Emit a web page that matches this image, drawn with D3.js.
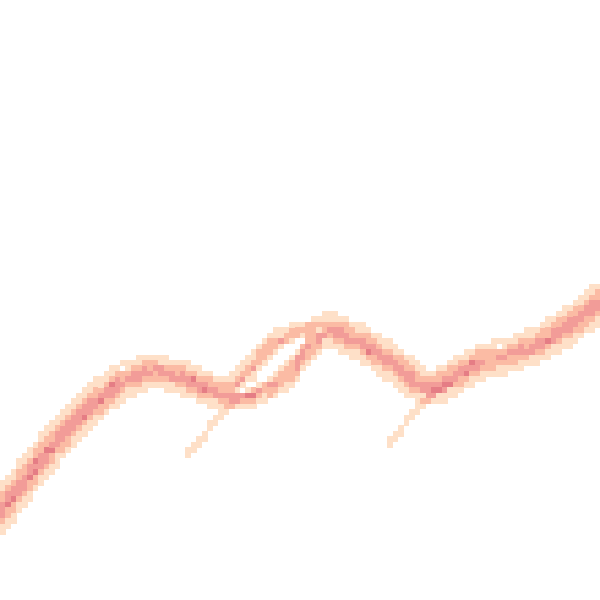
<!DOCTYPE html>
<html>
<head>
<meta charset="utf-8">
<script src="https://cdn.jsdelivr.net/npm/d3@7"></script>
<style>
html,body{margin:0;padding:0;background:#fff;}
svg{display:block;}
</style>
</head>
<body>
<svg id="chart" width="600" height="600"></svg>
<script>
// shared time positions for the band series
const xs = [0,6,12,18,24,30,36,42,46,50,54,58,62,66,72,78,83,86.4,90,96,102,108,114,120];

const seriesA  = [18.2,24.7,30.6,35.4,39.1,40.6,39.5,37.3,36.6,39.9,44.2,45.4,46.3,47.5,45.6,42.5,39.3,37.5,39.4,42.2,43.2,45.4,48.7,52.7];
const seriesB  = [16.5,23.0,29.0,33.9,37.7,39.5,38.4,36.2,35.5,38.6,43.0,44.5,45.5,46.4,44.4,41.1,37.9,36.4,38.2,41.0,42.1,44.2,47.3,51.3];
const seriesB2 = [16.2,22.7,28.7,33.6,37.5,39.3,38.2,36.0,35.3,38.0,42.4,44.1,45.1,46.2,44.2,40.9,37.7,36.2,38.0,40.8,41.9,44.0,47.1,51.0];
const seriesC  = [15.0,21.5,27.5,32.5,36.5,38.5,37.4,35.2,34.5,37.0,41.5,43.4,44.5,45.4,43.2,39.9,36.7,35.4,37.0,39.9,41.0,43.0,46.1,50.0];
const seriesD  = [14.7,21.2,27.2,32.2,36.3,38.3,37.2,35.0,34.3,34.6,36.2,39.3,43.6,45.2,43.0,39.7,36.5,35.2,36.8,39.7,40.8,42.8,45.8,49.7];
const seriesE  = [14.3,20.8,26.8,31.8,36.0,38.0,36.9,34.7,34.0,33.8,35.2,38.0,42.3,44.9,42.7,39.4,36.2,34.9,36.5,39.4,40.5,42.5,45.5,49.4];
const seriesF2 = [13.2,19.7,25.7,30.8,35.1,37.3,36.2,34.0,33.3,34.2,35.7,38.6,42.9,44.2,41.8,38.5,35.3,34.2,35.7,38.6,39.8,41.7,44.6,48.4];
const seriesF  = [12.9,19.4,25.4,30.5,34.9,37.1,36.0,33.8,33.1,33.3,34.6,37.2,41.5,44.0,41.6,38.3,35.1,34.0,35.4,38.4,39.5,41.4,44.3,48.1];
const seriesG  = [11.2,17.7,23.7,29.0,33.5,36.0,34.9,32.7,32.0,32.6,33.8,36.1,40.4,42.9,40.4,36.9,33.7,32.9,34.2,37.2,38.4,40.2,42.9,46.7];

// two short series that start later
const tail1X = [38, 44.4, 47, 51];
const tail1Y = [24.5, 31.3, 33.3, 33.8];
const tail2X = [77.8, 85, 86.4, 90];
const tail2Y = [26.2, 33.3, 34.6, 36.0];

const bandSeries = [seriesA, seriesB, seriesB2, seriesC, seriesD, seriesE, seriesF2, seriesF, seriesG];

const W = 600, H = 600, NB = 110;
const cs = W / NB;
const x = d3.scaleLinear().domain([0, 120]).range([0, W]);
const y = d3.scaleLinear().domain([0, 100]).range([H, 0]);

const lines = bandSeries.map(s => xs.map((t, i) => [t, s[i]]));
lines.push(tail1X.map((t, i) => [t, tail1Y[i]]));
lines.push(tail2X.map((t, i) => [t, tail2Y[i]]));

// bin each line into the grid, counting each cell once per line
const counts = new Map();
lines.forEach(pts => {
  const seen = new Set();
  for (let k = 0; k < pts.length - 1; k++) {
    const x0 = x(pts[k][0]), y0 = y(pts[k][1]);
    const x1 = x(pts[k+1][0]), y1 = y(pts[k+1][1]);
    const n = Math.max(1, Math.ceil(Math.hypot(x1 - x0, y1 - y0) / 0.5));
    for (let j = 0; j <= n; j++) {
      const px = x0 + (x1 - x0) * j / n, py = y0 + (y1 - y0) * j / n;
      const c = Math.floor(px / cs), r = Math.floor(py / cs);
      if (c < 0 || c >= NB || r < 0 || r >= NB) continue;
      seen.add(c + "," + r);
    }
  }
  seen.forEach(key => counts.set(key, (counts.get(key) || 0) + 1));
});

const cells = Array.from(counts, ([key, n]) => {
  const [c, r] = key.split(",").map(Number);
  return {c, r, n};
});

const color = d3.scaleThreshold()
  .domain([2, 3, 4])
  .range(["#fee0c8", "#fbbba4", "#f29c98", "#e57d85"]);

d3.select("#chart").append("g")
  .attr("shape-rendering", "crispEdges")
  .selectAll("rect")
  .data(cells)
  .join("rect")
  .attr("x", d => d.c * cs)
  .attr("y", d => d.r * cs)
  .attr("width", cs + 0.3)
  .attr("height", cs + 0.3)
  .attr("fill", d => color(d.n));
</script>
</body>
</html>
